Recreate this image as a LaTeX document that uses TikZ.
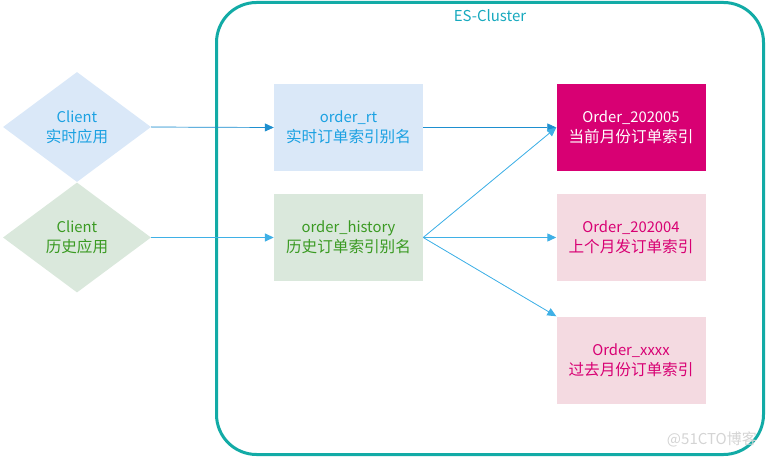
\documentclass[tikz,border=0pt]{standalone}
\usepackage{fontspec}
\setmainfont{Noto Sans CJK SC}
\usetikzlibrary{shapes.geometric,arrows.meta}
\definecolor{teal1}{HTML}{12ABA6}
\definecolor{teal2}{HTML}{17A9BE}
\definecolor{bluefill}{HTML}{DAE8F8}
\definecolor{greenfill}{HTML}{DAE8DC}
\definecolor{bluetext}{HTML}{1BA1E2}
\definecolor{greentext}{HTML}{3A9A22}
\definecolor{magenta1}{HTML}{D80073}
\definecolor{pinkfill}{HTML}{F4DAE1}
\definecolor{arrowdark}{HTML}{1E8FCF}
\definecolor{arrowlight}{HTML}{3FB0E6}
\newcommand{\twolines}[2]{{\fontsize{14.8pt}{20pt}\selectfont #1}\\{\fontsize{15.6pt}{20pt}\selectfont #2}}
\tikzset{
  txt/.style={font=\fontsize{15pt}{20pt}\selectfont, align=center, inner sep=0pt},
  boxnode/.style={txt, minimum width=149pt, minimum height=87pt},
  dia/.style={txt, diamond, minimum width=148pt, minimum height=110pt, inner sep=0pt, aspect=1.35},
  conn/.style={-{Triangle[length=9pt,width=8pt]}, line width=0.8pt},
}
\begin{document}
\begin{tikzpicture}[x=1pt,y=-1pt]
\useasboundingbox (0,0) rectangle (766,457);
\node[draw=teal1, line width=3pt, rounded corners=40pt, minimum width=547pt, minimum height=452pt, inner sep=0pt] (cluster) at (490,228.5) {};
\node[txt, font=\fontsize{15pt}{18pt}\selectfont, text=teal2] (title) at (490,16) {ES-Cluster};
% diamonds
\node[dia, fill=bluefill, text=bluetext] (c1) at (77,127) {\twolines{Client}{实时应用}};
\node[dia, fill=greenfill, text=greentext] (c2) at (77,237.5) {\twolines{Client}{历史应用}};
% alias boxes
\node[boxnode, fill=bluefill, text=bluetext] (rt) at (348.5,127.5) {\twolines{order\_rt}{实时订单索引别名}};
\node[boxnode, fill=greenfill, text=greentext] (hist) at (348.5,237.5) {\twolines{order\_history}{历史订单索引别名}};
% index boxes
\node[boxnode, fill=magenta1, text=white] (o5) at (631,127.5) {\twolines{Order\_202005}{当前月份订单索引}};
\node[boxnode, fill=pinkfill, text=magenta1] (o4) at (631,237.5) {\twolines{Order\_202004}{上个月发订单索引}};
\node[boxnode, fill=pinkfill, text=magenta1] (ox) at (631,360) {\twolines{Order\_xxxx}{过去月份订单索引}};
% watermark
\node[font=\fontsize{15pt}{17pt}\selectfont, text=black!17, anchor=east, inner sep=0pt] (wm) at (757,439) {@51CTO博客};
% connectors
\draw[conn, draw=arrowdark, fill=arrowdark, line width=0.7pt] (c1.east) -- (rt.west);
\draw[conn, draw=arrowdark, fill=arrowdark, line width=0.7pt] (rt.east) -- (o5.west);
\draw[conn, draw=arrowlight, fill=arrowlight, line width=1.4pt] (c2.east) -- (hist.west);
\draw[conn, draw=arrowlight, fill=arrowlight] (hist.east) -- (o5.west);
\draw[conn, draw=arrowlight, fill=arrowlight, line width=1.2pt] (hist.east) -- (o4.west);
\draw[conn, draw=arrowlight, fill=arrowlight] (hist.east) -- (ox.north west);
\end{tikzpicture}
\end{document}
